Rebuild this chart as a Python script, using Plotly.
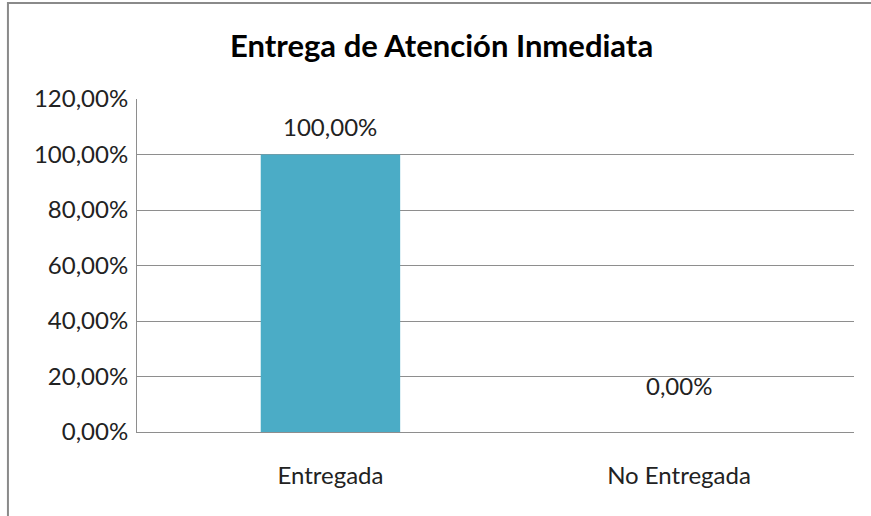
import plotly.graph_objects as go

categories = ['Entregada', 'No Entregada']
values = [1.0, 0.0]
label_texts = ['100,00%', '0,00%']

bar_color = '#4BACC6'
grid_color = '#8E8E8E'
text_color = '#222222'
font_family = 'Lato, Carlito, Calibri, sans-serif'

fig = go.Figure(go.Bar(
    x=categories,
    y=values,
    width=0.4,
    marker=dict(color=bar_color, line=dict(width=0)),
    showlegend=False,
    hoverinfo='skip',
))

# data labels (Excel puts the 0 label oddly high, so each gets its own shift)
label_shift = [28, 47]
for cat, val, txt, dy in zip(categories, values, label_texts, label_shift):
    fig.add_annotation(x=cat, y=val, text=txt, showarrow=False,
                       yanchor='middle', yshift=dy,
                       font=dict(family=font_family, size=24, color=text_color))

# outer chart frame
fig.add_shape(type='rect', xref='paper', yref='paper',
              x0=-0.18, x1=1.3, y0=-0.6, y1=1.288,
              line=dict(color='#8A8A8A', width=2), fillcolor='rgba(0,0,0,0)')

fig.update_layout(
    width=871, height=516,
    separators=',.',
    paper_bgcolor='white',
    plot_bgcolor='white',
    margin=dict(l=137, r=17, t=99, b=84),
    title=dict(text='<b>Entrega de Atención Inmediata</b>', x=0.507, xanchor='center',
               y=0.91, yanchor='middle',
               font=dict(family=font_family, size=31, color='#000000')),
    font=dict(family=font_family, color=text_color),
    xaxis=dict(
        range=[-0.555, 1.502],
        showgrid=False,
        showline=True, linecolor=grid_color, linewidth=1,
        ticks='',
        ticklabelstandoff=22,
        tickfont=dict(size=24, color=text_color),
        fixedrange=True,
    ),
    yaxis=dict(
        range=[0, 1.2],
        dtick=0.2,
        tickformat='.2%',
        showgrid=True, gridcolor=grid_color, gridwidth=1,
        showline=True, linecolor=grid_color, linewidth=1,
        mirror=False,
        zeroline=False,
        ticks='',
        ticklabelstandoff=3,
        tickfont=dict(size=24, color=text_color),
        fixedrange=True,
    ),
)

fig.write_html('out.html', config={'displayModeBar': False},
               post_script="document.body.style.margin='0';")
